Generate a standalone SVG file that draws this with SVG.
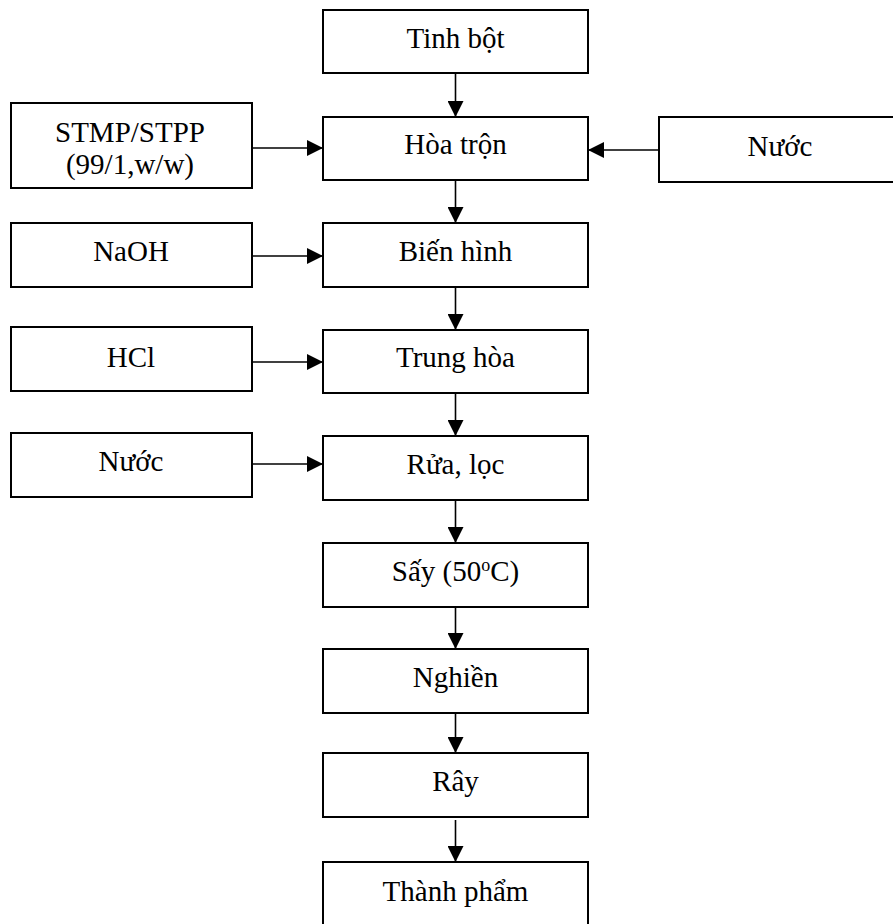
<svg xmlns="http://www.w3.org/2000/svg" width="893" height="924" viewBox="0 0 893 924">
<style>
rect{fill:#fff;stroke:#000;stroke-width:2}
text{font-family:"Liberation Serif","Times New Roman",serif;font-size:29px;fill:#000;text-anchor:middle}
.c line{stroke:#000;stroke-width:1.6}
</style>
<defs>
<marker id="ah" viewBox="0 0 16 16" refX="16" refY="8" markerWidth="16" markerHeight="16" markerUnits="userSpaceOnUse" orient="auto">
<path d="M0,0 L16,8 L0,16 Z" fill="#000"/>
</marker>
</defs>
<g id="tinhbot"><rect x="323" y="10" width="265" height="63"/><text x="455.5" y="48">Tinh bột</text></g>
<g id="hoatron"><rect x="323" y="117" width="265" height="63"/><text x="455.5" y="154">Hòa trộn</text></g>
<g id="bienhinh"><rect x="323" y="223" width="265" height="64"/><text x="455.5" y="261">Biến hình</text></g>
<g id="trunghoa"><rect x="323" y="330" width="265" height="63"/><text x="455.5" y="367">Trung hòa</text></g>
<g id="rualoc"><rect x="323" y="436" width="265" height="64"/><text x="455.5" y="474">Rửa, lọc</text></g>
<g id="say"><rect x="323" y="543" width="265" height="64"/><text x="455.5" y="581">Sấy (50<tspan font-size="18" dy="-10">o</tspan><tspan dy="10">C)</tspan></text></g>
<g id="nghien"><rect x="323" y="649" width="265" height="64"/><text x="455.5" y="687">Nghiền</text></g>
<g id="ray"><rect x="323" y="753" width="265" height="64"/><text x="455.5" y="791">Rây</text></g>
<g id="thanhpham"><rect x="323" y="862" width="265" height="70"/><text x="455.5" y="901">Thành phẩm</text></g>
<g id="stmp"><rect x="11" y="103" width="241" height="85"/><text x="130" y="142">STMP/STPP</text><text x="130" y="174">(99/1,w/w)</text></g>
<g id="naoh"><rect x="11" y="223" width="241" height="64"/><text x="131" y="261">NaOH</text></g>
<g id="hcl"><rect x="11" y="327" width="241" height="64"/><text x="131" y="367">HCl</text></g>
<g id="nuoc2"><rect x="11" y="433" width="241" height="64"/><text x="131" y="471">Nước</text></g>
<g id="nuoc1"><rect x="659" y="117" width="245" height="65"/><text x="780" y="156">Nước</text></g>
<g class="c" id="connectors">
<line x1="455.5" y1="73" x2="455.5" y2="117" marker-end="url(#ah)"/>
<line x1="455.5" y1="180" x2="455.5" y2="223" marker-end="url(#ah)"/>
<line x1="455.5" y1="287" x2="455.5" y2="330" marker-end="url(#ah)"/>
<line x1="455.5" y1="393" x2="455.5" y2="436" marker-end="url(#ah)"/>
<line x1="455.5" y1="500" x2="455.5" y2="543" marker-end="url(#ah)"/>
<line x1="455.5" y1="607" x2="455.5" y2="649" marker-end="url(#ah)"/>
<line x1="455.5" y1="713" x2="455.5" y2="753" marker-end="url(#ah)"/>
<line x1="455.5" y1="820" x2="455.5" y2="862" marker-end="url(#ah)"/>
<line x1="252" y1="148" x2="323" y2="148" marker-end="url(#ah)"/>
<line x1="252" y1="256" x2="323" y2="256" marker-end="url(#ah)"/>
<line x1="252" y1="362" x2="323" y2="362" marker-end="url(#ah)"/>
<line x1="252" y1="464" x2="323" y2="464" marker-end="url(#ah)"/>
<line x1="659" y1="150" x2="588" y2="150" marker-end="url(#ah)"/>
</g>
</svg>
